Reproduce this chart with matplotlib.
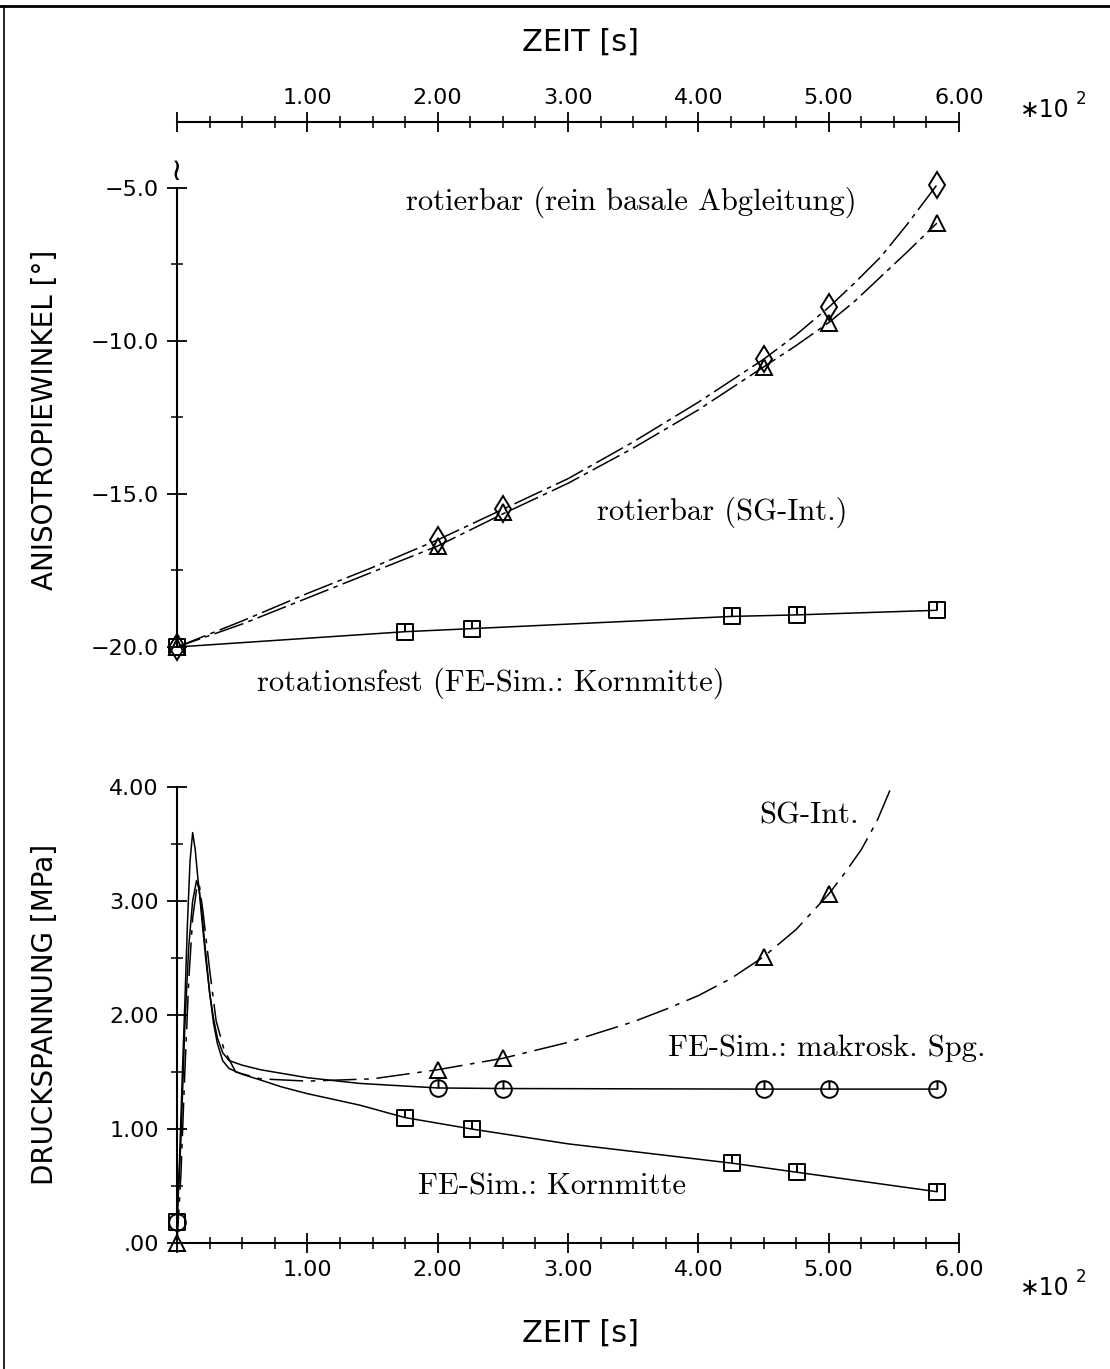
import numpy as np
import matplotlib
matplotlib.use('Agg')
import matplotlib.pyplot as plt
from matplotlib.path import Path
from matplotlib.lines import Line2D
from matplotlib.ticker import FixedLocator, MultipleLocator

# ---- obere Grafik: Anisotropiewinkel ----
t_rot = [0, 200, 250, 450, 500, 583]
rot_basal = [-20.0, -16.5, -15.5, -10.6, -8.9, -4.9]
rot_sg = [-20.0, -16.7, -15.6, -10.85, -9.4, -6.15]
t_fest = [0, 175, 226, 426, 476, 583]
fest = [-20.0, -19.5, -19.4, -19.0, -18.95, -18.8]

# punkte entlang der strich-punkt kurven
t_rot_curve = [0, 50, 100, 150, 200, 250, 300, 350, 400, 450, 475, 500, 520, 540, 560, 583]
basal_curve = [-20.0, -19.15, -18.25, -17.4, -16.5, -15.5, -14.5, -13.3, -12.0, -10.6, -9.8, -8.9, -8.1, -7.25, -6.2, -4.9]
sg_curve = [-20.0, -19.25, -18.4, -17.55, -16.7, -15.65, -14.65, -13.5, -12.25, -10.85, -10.15, -9.4, -8.7, -7.9, -7.1, -6.15]

# ---- untere Grafik: Druckspannung ----
t_korn = [0, 2, 4, 6, 8, 10, 12, 14, 16, 19, 22, 25, 28, 31, 35, 40, 50, 64, 80, 100, 140, 175, 226, 300, 426, 476, 583]
korn = [0.18, 0.75, 1.45, 2.1, 2.8, 3.35, 3.6, 3.45, 3.2, 2.9, 2.55, 2.2, 1.93, 1.75, 1.6, 1.53, 1.48, 1.43, 1.37, 1.31, 1.21, 1.10, 1.00, 0.87, 0.70, 0.62, 0.45]
t_korn_m = [0, 175, 226, 426, 476, 583]
korn_m = [0.18, 1.10, 1.00, 0.70, 0.62, 0.45]

t_makro = [0, 3, 6, 9, 12, 15, 17, 19, 22, 25, 28, 31, 35, 40, 50, 64, 100, 140, 200, 250, 450, 500, 583]
makro = [0.18, 0.9, 1.9, 2.6, 3.0, 3.18, 3.1, 2.85, 2.5, 2.2, 1.97, 1.8, 1.67, 1.6, 1.56, 1.52, 1.45, 1.40, 1.36, 1.355, 1.35, 1.35, 1.35]
t_makro_m = [0, 200, 250, 450, 500, 583]
makro_m = [0.18, 1.36, 1.355, 1.35, 1.35, 1.35]

t_sg = [0, 3, 6, 9, 12, 15, 17, 20, 25, 30, 36, 45, 64, 100, 150, 200, 250, 300, 350, 375, 400, 425, 450, 475, 500, 512, 525, 537, 547]
sg = [0.0, 0.6, 1.5, 2.3, 2.85, 3.1, 3.15, 2.9, 2.4, 1.95, 1.7, 1.5, 1.44, 1.42, 1.44, 1.52, 1.62, 1.76, 1.94, 2.05, 2.17, 2.32, 2.51, 2.75, 3.06, 3.24, 3.45, 3.70, 3.97]
t_sg_m = [0, 200, 250, 450, 500]
sg_m = [0.0, 1.52, 1.62, 2.51, 3.06]

x_ticks = [0, 100, 200, 300, 400, 500, 600]
x_ticklabels = ['', '1.00', '2.00', '3.00', '4.00', '5.00', '6.00']
y1_ticks = [-20, -15, -10, -5]
y1_ticklabels = ['\u221220.0', '\u221215.0', '\u221210.0', '\u22125.0']
y2_ticks = [0, 1, 2, 3, 4]
y2_ticklabels = ['.00', '1.00', '2.00', '3.00', '4.00']

W, H = 1110, 1369
sans = ['DejaVu Sans']
serif = ['cmr10', 'DejaVu Serif']
plt.rcParams['axes.unicode_minus'] = True

def fx(px):
    return px / W

def fy(py):
    return 1 - py / H

# marker: quadrat / kreis mit senkrechtem strich
sq_marker = Path([(-1, -1), (1, -1), (1, 1), (-1, 1), (-1, -1), (0, 0), (0, 1)],
                 [Path.MOVETO, Path.LINETO, Path.LINETO, Path.LINETO, Path.CLOSEPOLY, Path.MOVETO, Path.LINETO])
ci_marker = Path.make_compound_path(Path.unit_circle(), Path([(0, 0), (0, 1)], [Path.MOVETO, Path.LINETO]))

fig = plt.figure(figsize=(W / 100, H / 100), dpi=100)

x0, x1 = 177, 959
# obere achse: top spine bei y=122, -5 bei 188, -20 bei 647
ax1 = fig.add_axes([fx(x0), fy(647), fx(x1) - fx(x0), (647 - 122) / H])
ax2 = fig.add_axes([fx(x0), fy(1243), fx(x1) - fx(x0), (1243 - 787) / H])

ppu1 = (647 - 188) / 15.0
ax1.set_xlim(0, 600)
ax1.set_ylim(-20, -5 + (188 - 122) / ppu1)
ax2.set_xlim(0, 600)
ax2.set_ylim(0, 4)

lw = 1.1
ax1.plot(t_rot_curve, basal_curve, color='black', lw=lw, linestyle=(0, (20, 3.5, 3, 3.5)))
ax1.plot(t_rot_curve, sg_curve, color='black', lw=lw, linestyle=(4, (20, 3.5, 3, 3.5)))
ax1.plot(t_fest, fest, color='black', lw=lw)
ax1.plot(t_rot, rot_basal, linestyle='none', marker='d', ms=13, mfc='none', mec='black', mew=1.4, clip_on=False)
ax1.plot(t_rot, rot_sg, linestyle='none', marker='^', ms=12, mfc='none', mec='black', mew=1.4, clip_on=False)
ax1.plot(t_fest, fest, linestyle='none', marker=sq_marker, ms=12, mfc='none', mec='black', mew=1.4, clip_on=False)

ax2.plot(t_korn, korn, color='black', lw=lw, clip_on=False)
ax2.plot(t_makro, makro, color='black', lw=lw, clip_on=False)
ax2.plot(t_sg, sg, color='black', lw=lw, linestyle=(0, (22, 5, 3, 5)), clip_on=False)
ax2.plot(t_korn_m, korn_m, linestyle='none', marker=sq_marker, ms=12, mfc='none', mec='black', mew=1.4, clip_on=False)
ax2.plot(t_makro_m, makro_m, linestyle='none', marker=ci_marker, ms=12, mfc='none', mec='black', mew=1.4, clip_on=False)
ax2.plot(t_sg_m, sg_m, linestyle='none', marker='^', ms=12, mfc='none', mec='black', mew=1.4, clip_on=False)

for ax in (ax1, ax2):
    ax.patch.set_visible(False)
    ax.spines['right'].set_visible(False)
    for s in ax.spines.values():
        s.set_linewidth(1.5)
    ax.xaxis.set_major_locator(FixedLocator(x_ticks))
    ax.xaxis.set_minor_locator(MultipleLocator(25))
    ax.set_xticklabels(x_ticklabels)
    ax.tick_params(which='major', direction='inout', length=14, width=1.3, labelsize=16)
    ax.tick_params(which='minor', direction='inout', length=8, width=1.1)

ax1.spines['bottom'].set_visible(False)
ax1.spines['left'].set_bounds(-20, -5)
ax1.xaxis.set_ticks_position('top')
ax1.tick_params(axis='x', which='major', pad=3)
ax1.yaxis.set_major_locator(FixedLocator(y1_ticks))
ax1.yaxis.set_minor_locator(FixedLocator([-17.5, -12.5, -7.5]))
ax1.set_yticklabels(y1_ticklabels)
ax1.tick_params(axis='y', pad=6)
ax1.text(0, -4.45, '\u2240', ha='center', va='center', fontsize=22, family=['DejaVu Sans'])

ax2.spines['top'].set_visible(False)
ax2.yaxis.set_major_locator(FixedLocator(y2_ticks))
ax2.yaxis.set_minor_locator(MultipleLocator(0.5))
ax2.set_yticklabels(y2_ticklabels)
ax2.tick_params(axis='y', pad=6)
ax2.tick_params(axis='x', which='major', pad=5)

# beschriftungen in den grafiken
fs = 22
ax1.text(176, -5.46, 'rotierbar (rein basale Abgleitung)', ha='left', va='center', fontsize=fs, family=serif)
ax1.text(322, -15.6, 'rotierbar (SG-Int.)', ha='left', va='center', fontsize=fs, family=serif)
ax1.text(61, -21.2, 'rotationsfest (FE-Sim.: Kornmitte)', ha='left', va='center', fontsize=fs, family=serif)
ax2.text(447, 3.75, 'SG-Int.', ha='left', va='center', fontsize=fs, family=serif)
ax2.text(377, 1.71, 'FE-Sim.: makrosk. Spg.', ha='left', va='center', fontsize=fs, family=serif)
ax2.text(185, 0.49, 'FE-Sim.: Kornmitte', ha='left', va='center', fontsize=fs, family=serif)

# achsentitel
fig.text(fx(580), fy(42), 'ZEIT [s]', ha='center', va='center', fontsize=22, family=sans)
fig.text(fx(580), fy(1333), 'ZEIT [s]', ha='center', va='center', fontsize=22, family=sans)
fig.text(fx(45), fy(420), 'ANISOTROPIEWINKEL [\u00b0]', ha='center', va='center', rotation=90, fontsize=20, family=sans)
fig.text(fx(45), fy(1014), 'DRUCKSPANNUNG [MPa]', ha='center', va='center', rotation=90, fontsize=20, family=sans)
for py in (110, 1288):
    fig.text(fx(1020), fy(py), '\u221710', ha='left', va='center', fontsize=17, family=sans)
    fig.text(fx(1076), fy(py - 11), '2', ha='left', va='center', fontsize=12, family=sans)

# rahmen (oben und links)
fig.add_artist(Line2D([0, 1], [fy(6), fy(6)], color='black', lw=2))
fig.add_artist(Line2D([fx(4), fx(4)], [0, fy(6)], color='black', lw=1.2))

fig.savefig('out.png', dpi=100)
